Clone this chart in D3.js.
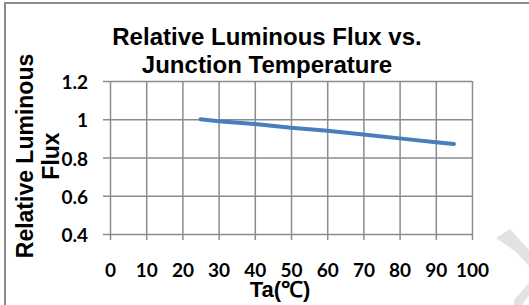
<!DOCTYPE html>
<html>
<head>
<meta charset="utf-8">
<script src="https://cdn.jsdelivr.net/npm/d3@7"></script>
<style>
  body { margin: 0; background: #fff; }
  svg { display: block; }
</style>
</head>
<body>
<svg></svg>
<script>
// measured points of the curve
const temps = [25, 30, 40, 50, 60, 70, 80, 90, 95]
const flux = [1.0, 0.99, 0.975, 0.955, 0.94, 0.92, 0.90, 0.88, 0.87]
const xTicks = [0, 10, 20, 30, 40, 50, 60, 70, 80, 90, 100]
const yTicks = [0.4, 0.6, 0.8, 1.0, 1.2]
const titleLines = ['Relative Luminous Flux vs.', 'Junction Temperature']
const yTitleLines = ['Relative Luminous', 'Flux']
const xTitle = 'Ta(℃)'

const width = 529
const height = 305
const margin = ({ top: 81, right: 57, bottom: 71, left: 110 })

const data = temps.map((t, i) => ({ t: t, f: flux[i] }))

const x = d3.scaleLinear()
  .domain([0, 100])
  .range([margin.left, width - margin.right])

const y = d3.scaleLinear()
  .domain([0.4, 1.2])
  .range([height - margin.bottom, margin.top])

const svg = d3.select('svg')
  .attr('width', width)
  .attr('height', height)

// outer frame (top and left edges visible)
svg.append('path')
  .attr('d', `M5,${height} V3 H${width}`)
  .attr('fill', 'none')
  .attr('stroke', '#8c8c8c')
  .attr('stroke-width', 2)

// faint watermark bits at the right edge
svg.append('g')
  .attr('fill', '#e2e2e2')
  .selectAll('path')
  .data([
    'M496,238 L510,229 L529,250 L529,266 L516,252 Z',
    'M514,300 L529,283 L529,295 L522,305 L514,305 Z'
  ])
  .enter().append('path')
  .attr('d', d => d)

const tickFont = 'Lato, "Liberation Sans", sans-serif'

function xGrid (g) {
  g
    .attr('transform', `translate(0,${height - margin.bottom})`)
    .call(d3.axisBottom(x).tickValues(xTicks)
      .tickSizeInner(-(height - margin.bottom - margin.top))
      .tickSizeOuter(0)
      .tickFormat(''))
    .call(g => g.select('.domain').remove())
    .call(g => g.selectAll('.tick line').attr('stroke', '#8c8c8c').attr('stroke-width', 1.5))
}

function yGrid (g) {
  g
    .attr('transform', `translate(${margin.left},0)`)
    .call(d3.axisLeft(y).tickValues(yTicks)
      .tickSizeInner(-(width - margin.right - margin.left))
      .tickSizeOuter(0)
      .tickFormat(''))
    .call(g => g.select('.domain').remove())
    .call(g => g.selectAll('.tick line').attr('stroke', '#8c8c8c').attr('stroke-width', 1.5))
}

function xAxis (g) {
  g
    .attr('transform', `translate(0,${height - margin.bottom})`)
    .call(d3.axisBottom(x).tickValues(xTicks)
      .tickSizeInner(6)
      .tickSizeOuter(0)
      .tickPadding(24))
    .call(g => g.select('.domain').remove())
    .call(g => g.selectAll('.tick line').attr('stroke', '#8c8c8c').attr('stroke-width', 1.5))
    .call(g => g.selectAll('.tick text')
      .attr('fill', '#000')
      .attr('font-family', tickFont)
      .attr('font-weight', 'bold')
      .attr('font-size', '19px'))
}

function yAxis (g) {
  g
    .attr('transform', `translate(${margin.left},0)`)
    .call(d3.axisLeft(y).tickValues(yTicks)
      .tickSizeInner(7)
      .tickSizeOuter(0)
      .tickPadding(15)
      .tickFormat(d => +d.toFixed(1)))
    .call(g => g.select('.domain').remove())
    .call(g => g.selectAll('.tick line').attr('stroke', '#8c8c8c').attr('stroke-width', 1.5))
    .call(g => g.selectAll('.tick text')
      .attr('fill', '#000')
      .attr('dy', '0.4em')
      .attr('font-family', tickFont)
      .attr('font-weight', 'bold')
      .attr('font-size', '19px'))
}

function fluxLine (g) {
  const line = d3.line()
    .x(d => x(d.t))
    .y(d => y(d.f))
  g.append('path')
    .datum(data)
    .attr('d', line)
    .attr('fill', 'none')
    .attr('stroke', '#4a7ebb')
    .attr('stroke-width', 4)
    .attr('stroke-linecap', 'round')
    .attr('stroke-linejoin', 'round')
}

function titles (g) {
  g.attr('font-family', '"Liberation Sans", Arial, sans-serif')
    .attr('font-weight', 'bold')
    .attr('fill', '#000')

  g.append('text')
    .attr('text-anchor', 'middle')
    .attr('font-size', '24px')
    .selectAll('tspan')
    .data(titleLines)
    .enter().append('tspan')
    .attr('x', 267)
    .attr('y', (d, i) => 45 + i * 28)
    .text(d => d)

  g.append('text')
    .attr('text-anchor', 'middle')
    .attr('font-size', '23px')
    .attr('transform', 'translate(0,156) rotate(-90)')
    .selectAll('tspan')
    .data(yTitleLines)
    .enter().append('tspan')
    .attr('x', 0)
    .attr('y', (d, i) => 33 + i * 26)
    .text(d => d)

  g.append('text')
    .attr('text-anchor', 'middle')
    .attr('font-size', '22px')
    .attr('x', 280)
    .attr('y', 297)
    .text(xTitle)
}

svg.append('g').call(xGrid)
svg.append('g').call(yGrid)
svg.append('g').call(xAxis)
svg.append('g').call(yAxis)
svg.append('g').call(fluxLine)
svg.append('g').call(titles)
</script>
</body>
</html>
